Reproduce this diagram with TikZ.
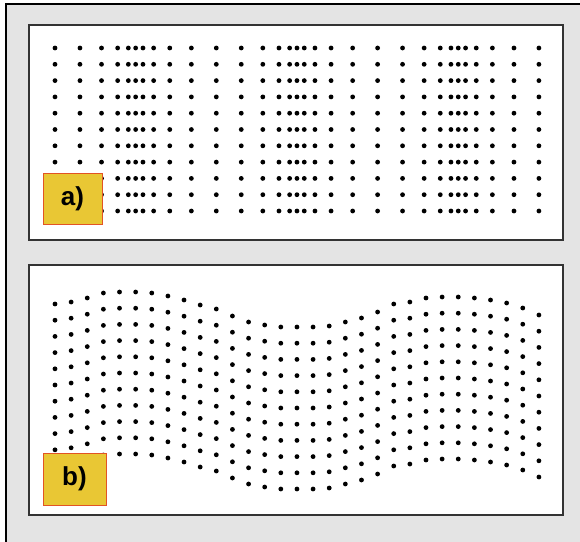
\documentclass[tikz,border=0pt]{standalone}
\usepackage{fontspec}
\setmainfont{Liberation Sans}
\definecolor{framegray}{RGB}{228,228,228}
\definecolor{tagyellow}{RGB}{233,199,52}
\definecolor{tagred}{RGB}{226,84,36}
\tikzset{
  pdot/.style={fill=black},
  panel/.style={draw=black!80, line width=1.5pt, fill=white},
  tag/.style={draw=tagred, line width=0.9pt, fill=tagyellow, inner sep=0pt,
    font=\bfseries\fontsize{26}{26}\selectfont},
}
\begin{document}
\begin{tikzpicture}[x=1pt,y=-1pt]
		\useasboundingbox (0,0) rectangle (580,541);
		\clip (0,0) rectangle (580,541);
		\fill[white] (0,0) rectangle (580,541);
		\draw[fill=framegray, line width=2.5pt] (6,4) rectangle (600,560);
		\draw[panel] (29,25) rectangle (563,240);
		\draw[panel] (29,265) rectangle (563,515);
		% a) compressed columns
		\foreach \i in {0,...,30}{
			\pgfmathsetmacro\xa{55+16.13*\i+15*sin(36*\i)}
			\foreach \j in {0,...,10}
				\fill[pdot] (\xa,48+16.3*\j) circle (2.4pt);
		}
		% b) shifted columns
		\foreach \t [count=\i from 0] in {304,302,298,293,292,292,293,296,300,305,309,316,322,325,327,327,327,326,322,318,312,304,302,298,297,297,298,300,303,308,315}{
			\foreach \j in {0,...,10}
				\fill[pdot] (55+16.13*\i,\t+16.2*\j) circle (2.4pt);
		}
		\node[tag, minimum width=59pt, minimum height=51pt] (taga) at (72.5,198.5) {a)};
		\node[tag, minimum width=63pt, minimum height=52pt] (tagb) at (74.5,479) {b)};
\end{tikzpicture}
\end{document}
